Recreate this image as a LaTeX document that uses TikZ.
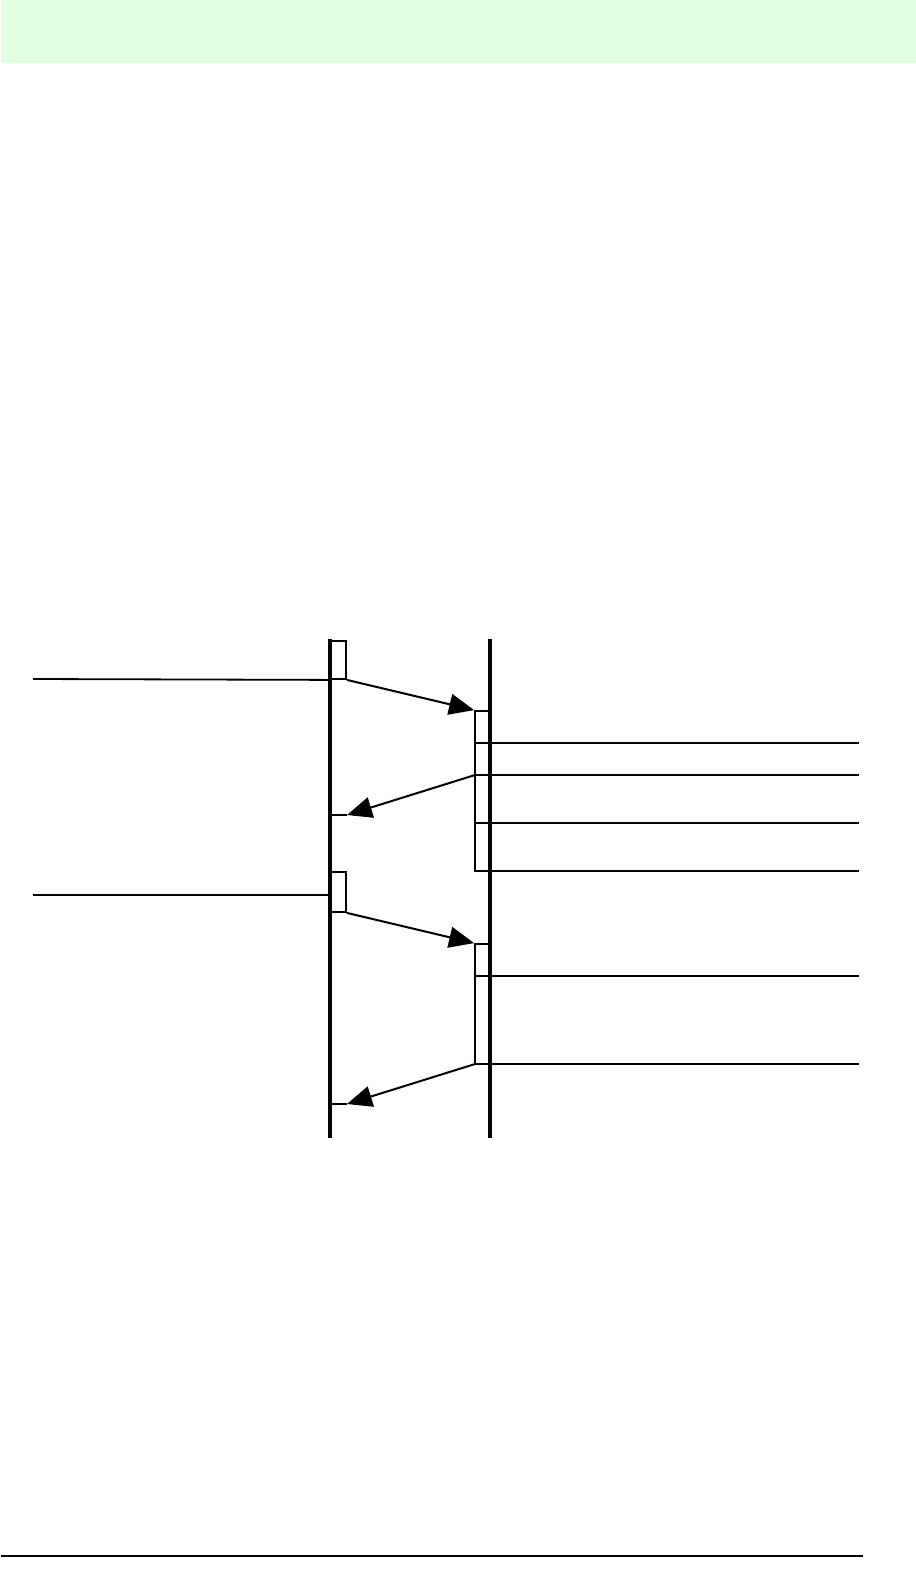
\documentclass[tikz,border=0pt]{standalone}
\usetikzlibrary{arrows.meta}
\definecolor{bandgreen}{HTML}{E0FFE0}
\begin{document}
\begin{tikzpicture}[x=1pt,y=-1pt,
  lifeline/.style={line width=4.6pt},
  actbox/.style={draw, line width=1.8pt, fill=white, inner sep=0pt, minimum width=16pt},
  msg/.style={line width=2pt, -{Triangle[length=25pt,width=21pt]}},
  rule/.style={line width=1.8pt},
  tick/.style={line width=2pt}]
\useasboundingbox (0,0) rectangle (916,1583);
\fill[bandgreen] (1,0) rectangle (916,63);
% lifelines
\coordinate (Lt) at (330,639); \coordinate (Lb) at (330,1138);
\coordinate (Rt) at (490,639); \coordinate (Rb) at (490,1138);
% activation boxes
\node[actbox, minimum height=38pt] (lb1) at (338,660) {};
\node[actbox, minimum height=40pt] (lb2) at (338,892) {};
\node[actbox, minimum width=15pt, minimum height=160pt] (rb1) at (482.5,791) {};
\node[actbox, minimum width=15pt, minimum height=120pt] (rb2) at (482.5,1004) {};
\draw[lifeline] (Lt) -- (Lb);
\draw[lifeline] (Rt) -- (Rb);
% incoming lines on left
\coordinate (in1) at (33,679);
\coordinate (in2) at (33,895);
\draw[rule] (in1) -- (lb1.south west);
\draw[rule] (in2) -- (330,895);
% right side divisions and outgoing lines
\foreach \y/\n in {743/a,775/b,823/c,871/d,976/e,1064/f}{
  \coordinate (s\n) at (475,\y);
  \coordinate (e\n) at (859,\y);
  \draw[rule] (s\n) -- (e\n);
}
% returns on left
\coordinate (r1) at (347,815);
\coordinate (r2) at (347,1104);
\draw[tick] (330,815) -- (r1);
\draw[tick] (330,1104) -- (r2);
% messages
\draw[msg] (lb1.south east) -- (rb1.north west);
\draw[msg] (sb) -- (r1);
\draw[msg] (lb2.south east) -- (rb2.north west);
\draw[msg] (sf) -- (r2);
% bottom rule
\coordinate (bl) at (1,1556); \coordinate (br) at (863,1556);
\draw[line width=2pt] (bl) -- (br);
\end{tikzpicture}
\end{document}
